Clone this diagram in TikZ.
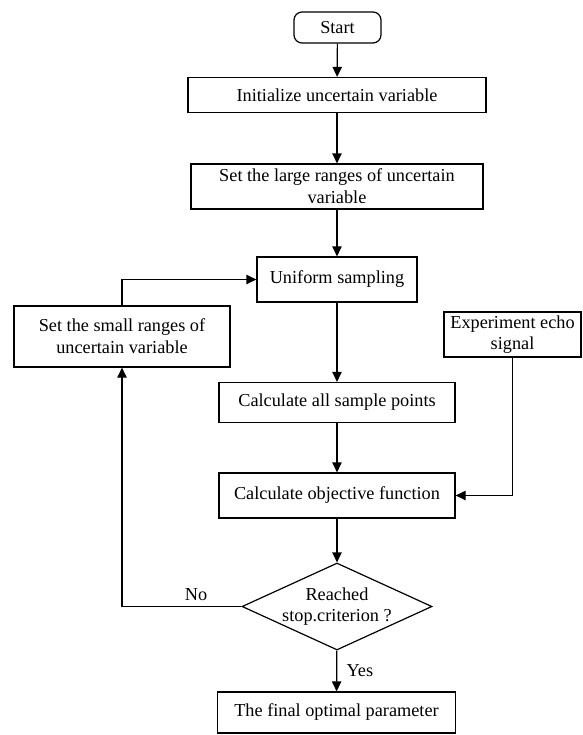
\documentclass[tikz,border=0pt]{standalone}
\usepackage{fontspec}
\setmainfont{Liberation Serif}
\usetikzlibrary{arrows.meta,shapes.geometric}

\begin{document}
\begin{tikzpicture}[x=0.75pt, y=-0.75pt, line width=0.9pt,
	every node/.style={font=\fontsize{13.7}{16.3}\selectfont, inner sep=1pt},
	>={Triangle[length=7.5pt, width=7pt]},
	box/.style={draw, align=center, minimum height=33.75pt},
	test/.style={draw, diamond, aspect=2.2, align=center, inner sep=-3pt, minimum width=142.5pt, minimum height=65.25pt}]
	\useasboundingbox (0,0) rectangle (582,735);
	\node[box, rounded corners=6pt, minimum width=65.25pt, minimum height=23.25pt] (start) at (337.5,27.5) {Start};
	\node[box, minimum width=223.5pt, minimum height=26.25pt] (init) at (337,95) {Initialize uncertain variable};
	\node[box, minimum width=219pt] (large) at (337,186.5) {Set the large ranges of uncertain\\variable};
	\node[box, minimum width=120pt] (unif) at (337,279.5) {Uniform sampling};
	\node[box, minimum width=162pt, minimum height=45.75pt] (small) at (122,336.5) {Set the small ranges of\\uncertain variable};
	\node[box, minimum width=102.75pt] (echo) at (512.5,334.5) {Experiment echo\\signal};
	\node[box, minimum width=177pt, minimum height=30pt] (points) at (337,402.5) {Calculate all sample points};
	\node[box, minimum width=177pt] (obj) at (337,495.5) {Calculate objective function};
	\node[test] (dia) at (337,606.5) {Reached\\stop.criterion ?};
	\node[box, minimum width=178.5pt, minimum height=30.75pt] (final) at (336.5,712.5) {The final optimal parameter};
	\draw[->] (start) -- (init);
	\draw[->] (init) -- (large);
	\draw[->] (large) -- (unif);
	\draw[->] (unif) -- (points);
	\draw[->] (points) -- (obj);
	\draw[->] (obj) -- (dia);
	\draw[->] (dia) -- node[right, xshift=6pt] {Yes} (final);
	\draw[->] (dia.west) -- node[above, pos=0.38, yshift=3pt] {No} (dia.west -| small.south) -- (small.south);
	\draw[->] (small.north) |- (unif.west);
	\draw[->] (echo.south) |- (obj.east);
\end{tikzpicture}
\end{document}
